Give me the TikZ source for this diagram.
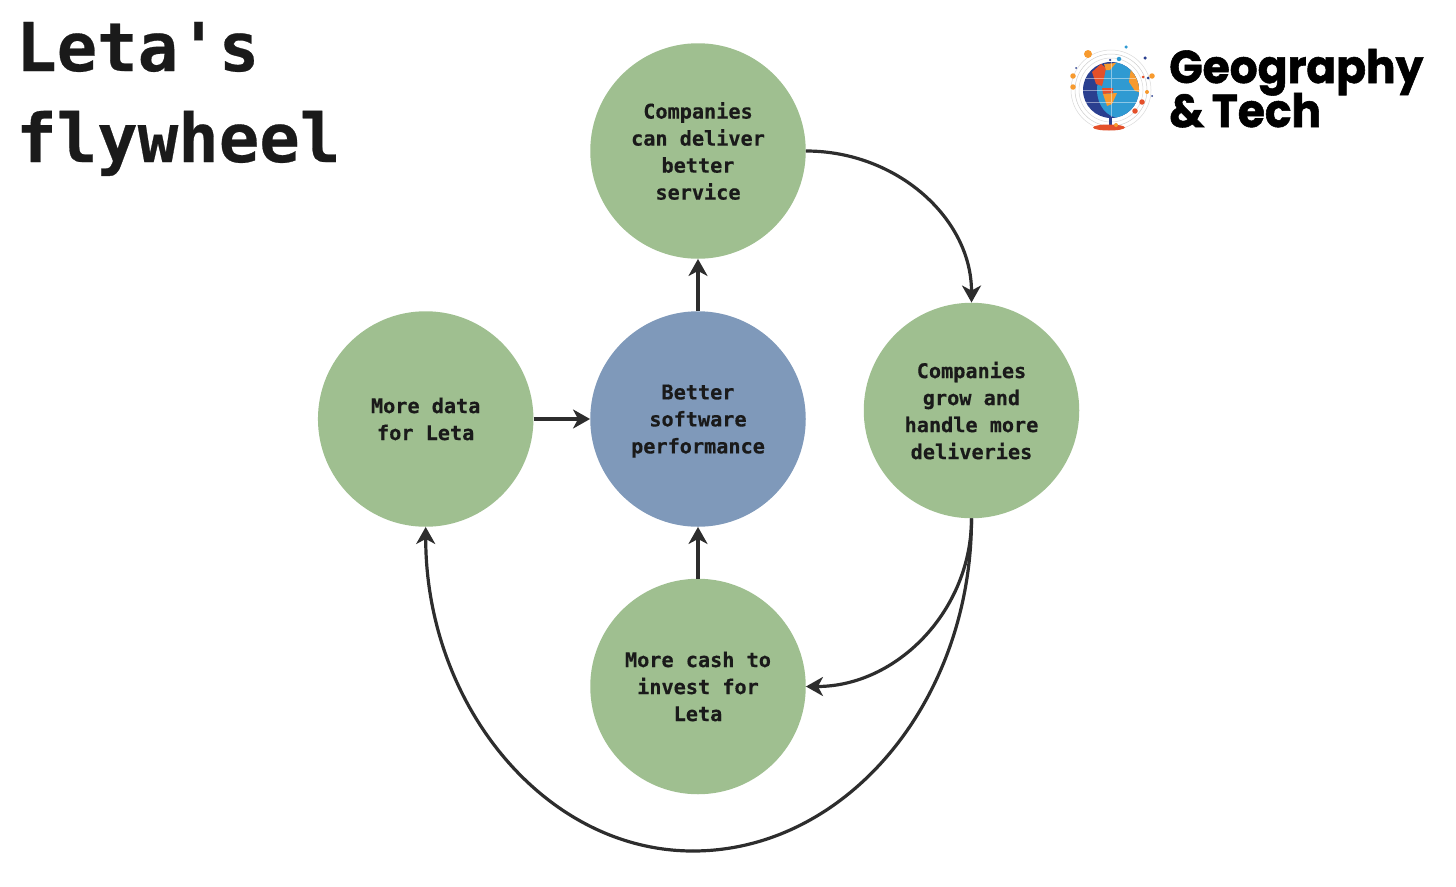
\documentclass[tikz,border=0pt]{standalone}
\usepackage{fontspec}
\usetikzlibrary{arrows.meta}
\setmonofont[BoldFeatures={FakeBold=0.4}]{DejaVu Sans Mono}
\newfontfamily\logofont[BoldFeatures={FakeBold=1.2,FakeStretch=0.955}]{Poppins}
\definecolor{greenfill}{HTML}{9FBF90}
\definecolor{bluefill}{HTML}{7F99BA}
\definecolor{inkline}{HTML}{2D2D2D}
\definecolor{inktext}{HTML}{1A1A1A}
\definecolor{gblue}{HTML}{2F9AD2}
\definecolor{gdark}{HTML}{2A3F8F}
\definecolor{gorange}{HTML}{F79A2E}
\definecolor{gred}{HTML}{E4502A}
\tikzset{
  flow/.style={circle,minimum size=215.5pt,inner sep=0pt,align=center,text=inktext,
    font=\ttfamily\bfseries\fontsize{20.2}{27}\selectfont},
  green node/.style={flow,fill=greenfill},
  blue node/.style={flow,fill=bluefill},
  plain link/.style={draw=inkline,line width=3.2pt},
  link/.style={plain link,-{Stealth[length=17pt,width=19pt,inset=5pt]}},
  title text/.style={anchor=base west,inner sep=0pt,text=inktext,font=\ttfamily\bfseries\fontsize{67.3}{67.3}\selectfont},
  logo text/.style={anchor=base west,inner sep=0pt,text=black,font=\logofont\bfseries\fontsize{46}{46}\selectfont},
  dot/.style={circle,inner sep=0pt},
  orbit/.style={draw=gray!40,line width=.5pt}
}
\begin{document}
\begin{tikzpicture}[x=1pt,y=-1pt]
\useasboundingbox (0,0) rectangle (1456,886);
\node[title text] (t1) at (16,71) {Leta's};
\node[title text] (t2) at (16,162) {flywheel};
\node[green node] (top) at (698,151) {Companies\\can deliver\\better\\service};
\node[blue node] (mid) at (698,419) {Better\\software\\\smash{performance}};
\node[green node] (left) at (425.7,419) {More data\\for Leta};
\node[green node] (right) at (971.5,410.5) {Companies\\grow and\\handle more\\deliveries};
\node[green node] (bot) at (698,686.5) {More cash to\\invest for\\Leta};
\coordinate (low) at (693,851);
\draw[link] (mid.north) -- (top.south);
\draw[link] (left.east) -- (mid.west);
\draw[link] (bot.north) -- (mid.south);
\draw[link] (top.east) .. controls +(91,0) and +(0,-84) .. (right.north);
\draw[link] (right.south) .. controls +(0,92) and +(91,0) .. (bot.east);
\draw[plain link] (right.south) .. controls +(0,183) and +(153,0) .. (low);
\draw[link] (low) .. controls +(-148,0) and +(0,178) .. (left.south);
% logo
\node[logo text] (l1) at (1169,83) {Geography};
\node[logo text] (l2) at (1169,127) {\&\,Tech};
\draw[orbit] (1111,90) circle[radius=36];
\draw[orbit,gray!30] (1111,90) circle[radius=32];
\draw[orbit,gray!30] (1111,90) circle[radius=40];
\fill[gdark] (1111,90) circle[radius=28];
\begin{scope}
\clip (1111,90) circle[radius=28];
\fill[gblue] (1120,90) ellipse[x radius=23,y radius=28];
\fill[gred] (1092,72) -- (1101,64) -- (1106,68) -- (1104,78) -- (1102,86) -- (1096,84) -- cycle;
\fill[gorange] (1104,64) -- (1116,63) -- (1110,70) -- (1106,70) -- cycle;
\fill[gred] (1102,88) -- (1113,88) -- (1113,93) -- (1103,94) -- cycle;
\fill[gorange] (1103,94) -- (1117,93) -- (1112,104) -- (1107,106) -- cycle;
\fill[gorange] (1131,68) -- (1139,78) -- (1139,92) -- (1135,91) -- (1129,82) -- cycle;
\draw[white,opacity=.45,line width=.4pt] (1083,90) -- (1139,90) (1111,62) -- (1111,118)
  (1085,78) -- (1137,78) (1085,102) -- (1137,102);
\end{scope}
\fill[gdark] (1109,117) rectangle (1112,126);
\fill[gred] (1109,127.5) ellipse[x radius=16,y radius=3];
\fill[gorange] (1116,125) circle[radius=2];
\node[dot,fill=gorange,minimum size=8pt] (d1) at (1088,54) {};
\node[dot,fill=gorange,minimum size=5.5pt] (d2) at (1073,76) {};
\node[dot,fill=gorange,minimum size=5.5pt] (d3) at (1073,87) {};
\node[dot,fill=gblue,minimum size=3.5pt] (d4) at (1126,47) {};
\node[dot,fill=gblue,minimum size=4.5pt] (d5) at (1119,59) {};
\node[dot,fill=gdark,minimum size=3.5pt] (d6) at (1145,58) {};
\node[dot,fill=gorange,minimum size=5.5pt] (d7) at (1152,76) {};
\node[dot,fill=gorange,minimum size=4pt] (d8) at (1147,92) {};
\node[dot,fill=gred,minimum size=5.5pt] (d9) at (1142,102) {};
\node[dot,fill=gred,minimum size=5.5pt] (d10) at (1135,111) {};
\node[dot,fill=gdark,minimum size=2pt] (d11) at (1152,96) {};
\node[dot,fill=gred,minimum size=3pt] (d12) at (1143,77) {};
\node[dot,fill=gdark,minimum size=3pt] (d13) at (1148,78) {};
\node[dot,fill=gdark,minimum size=2pt] (d14) at (1076,68) {};
\node[dot,fill=gdark,minimum size=2.5pt] (d15) at (1110,60) {};
\end{tikzpicture}
\end{document}
